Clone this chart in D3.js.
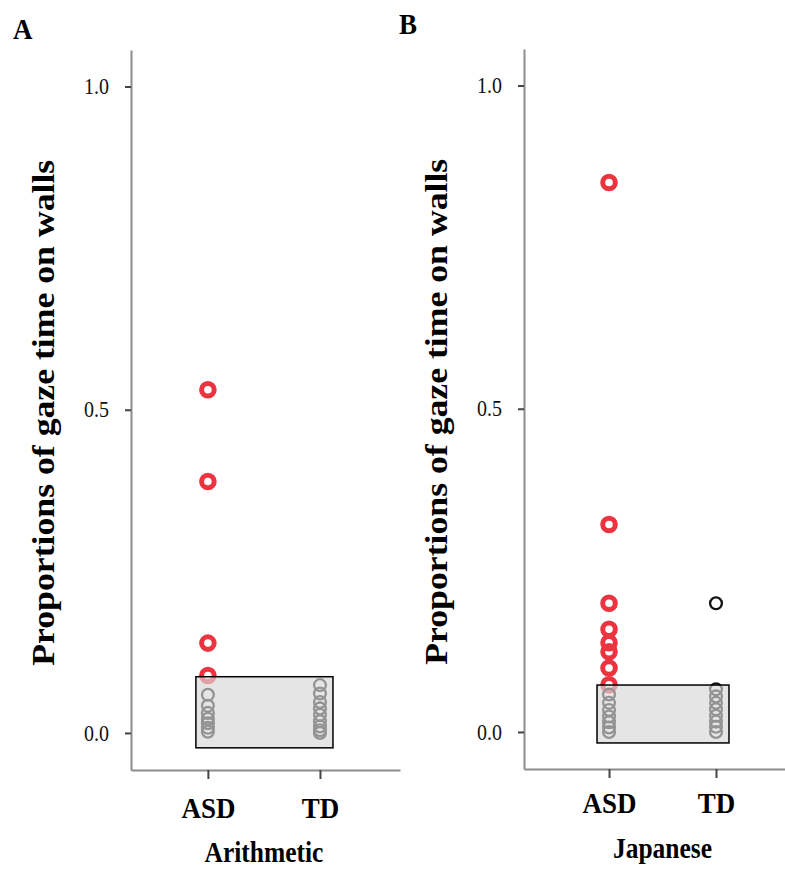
<!DOCTYPE html>
<html>
<head>
<meta charset="utf-8">
<script src="https://cdn.jsdelivr.net/npm/d3@7"></script>
<style>
  body { margin: 0; background: #fff; }
  svg { display: block; }
  text { font-family: "Liberation Serif", "Times New Roman", serif; }
</style>
</head>
<body>
<svg id="chart" width="785" height="869"></svg>
<script>
// ---- data ----
const groups = ["ASD", "TD"];
const yTicks = [0.0, 0.5, 1.0];
const panelLetters = ["A", "B"];
const panelTitles = ["Arithmetic", "Japanese"];
const yLabel = "Proportions of gaze time on walls";

// Panel A (Arithmetic)
const asdOutliersA = [0.531, 0.389, 0.139, 0.089];
const asdA = [0.059, 0.042, 0.031, 0.022, 0.015, 0.008, 0.002];
const tdA = [0.074, 0.061, 0.048, 0.038, 0.028, 0.018, 0.01, 0.004, 0.0];
const boxA = [-0.023, 0.087];

// Panel B (Japanese)
const asdOutliersB = [0.85, 0.321, 0.199, 0.159, 0.138, 0.124, 0.099, 0.073];
const asdB = [0.058, 0.045, 0.034, 0.024, 0.015, 0.007, 0.0];
const tdB = [0.199, 0.066, 0.055, 0.045, 0.035, 0.025, 0.016, 0.008, 0.0];
const boxB = [-0.017, 0.0726];

const panels = [
  { letter: panelLetters[0], title: panelTitles[0], outliers: asdOutliersA, asd: asdA, td: tdA, box: boxA,
    x0: 131, x1: 400, yTop: 50, yBot: 770, pad: 0.70, align: 0.49,
    letterX: 13, letterY: 39, ylabX: 54, titleY: 862, tickLabY: 818 },
  { letter: panelLetters[1], title: panelTitles[1], outliers: asdOutliersB, asd: asdB, td: tdB, box: boxB,
    x0: 524, x1: 785, yTop: 49, yBot: 769, pad: 0.72, align: 0.552,
    letterX: 399, letterY: 34, ylabX: 447, titleY: 858, tickLabY: 813 }
];

const svg = d3.select("#chart");
const RED = "#ec3340";
const SY = 1.12; // vertical stretch of the glyphs seen in the reference

panels.forEach(p => {
  const g = svg.append("g");
  const y = d3.scaleLinear().domain([-0.0573, 1.0565]).range([p.yBot, p.yTop]);
  const x = d3.scalePoint().domain(groups).range([p.x0, p.x1]).padding(p.pad).align(p.align);

  // y axis
  const yAx = g.append("g").attr("transform", `translate(${p.x0},0)`)
    .call(d3.axisLeft(y).tickValues(yTicks).tickFormat(d3.format(".1f")).tickSize(6).tickSizeOuter(0));
  yAx.select(".domain").attr("stroke", "#8c8c8c").attr("stroke-width", 2);
  yAx.selectAll(".tick line").attr("stroke", "#444").attr("stroke-width", 2);
  yAx.selectAll(".tick text").attr("font-size", 20).attr("fill", "#111")
    .attr("x", -22).attr("transform", `scale(1,${SY})`);

  // x axis
  const xAx = g.append("g").attr("transform", `translate(0,${p.yBot})`)
    .call(d3.axisBottom(x).tickSize(9).tickSizeOuter(0));
  xAx.select(".domain").attr("stroke", "#8c8c8c").attr("stroke-width", 2);
  xAx.selectAll(".tick line").attr("stroke", "#444").attr("stroke-width", 2);
  xAx.selectAll(".tick text").attr("font-size", 27).attr("font-weight", "bold").attr("fill", "#000")
    .attr("y", (p.tickLabY - p.yBot) / SY).attr("dy", 0).attr("transform", `scale(1,${SY})`);

  // points
  const pts = [];
  p.outliers.forEach(v => pts.push({ g: "ASD", v, red: true }));
  p.asd.forEach(v => pts.push({ g: "ASD", v, red: false }));
  p.td.forEach(v => pts.push({ g: "TD", v, red: false }));
  g.append("g").selectAll("circle").data(pts).join("circle")
    .attr("cx", d => x(d.g))
    .attr("cy", d => y(d.v))
    .attr("r", d => d.red ? 6.3 : 5.9)
    .attr("fill", "none")
    .attr("stroke", d => d.red ? RED : "#111")
    .attr("stroke-width", d => d.red ? 5 : 2.3);

  // semi-transparent box overlay
  const bx0 = x("ASD") - 12, bx1 = x("TD") + 13;
  g.append("rect")
    .attr("x", bx0).attr("width", bx1 - bx0)
    .attr("y", y(p.box[1])).attr("height", y(p.box[0]) - y(p.box[1]))
    .attr("fill", "#d8d8d8").attr("fill-opacity", 0.66)
    .attr("stroke", "#000").attr("stroke-width", 1.5);

  // panel letter
  g.append("text").attr("transform", `translate(${p.letterX},${p.letterY}) scale(1,${SY})`)
    .attr("font-size", 27).attr("font-weight", "bold").text(p.letter);

  // y label
  const cy = (y(0) + y(1)) / 2 + 3;
  g.append("text")
    .attr("transform", `translate(${p.ylabX},${cy}) rotate(-90)`)
    .attr("text-anchor", "middle")
    .attr("font-size", 31).attr("font-weight", "bold")
    .attr("textLength", 506).attr("lengthAdjust", "spacingAndGlyphs")
    .text(yLabel);

  // x title
  g.append("text")
    .attr("transform", `translate(${(x("ASD") + x("TD")) / 2},${p.titleY}) scale(1,${SY})`)
    .attr("text-anchor", "middle").attr("font-size", 25.5).attr("font-weight", "bold")
    .text(p.title);
});
</script>
</body>
</html>
